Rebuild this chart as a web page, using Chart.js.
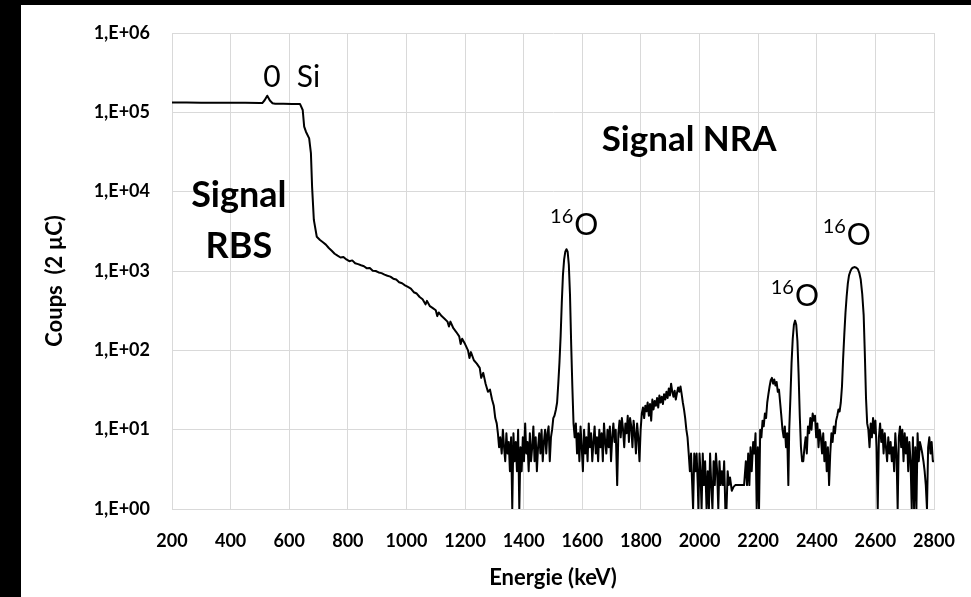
<!DOCTYPE html>
<html>
<head>
<meta charset="utf-8">
<script src="https://cdn.jsdelivr.net/npm/chart.js@4.4.1/dist/chart.umd.min.js"></script>
<style>
  html, body { margin: 0; padding: 0; background: #000; }
  body { width: 971px; height: 597px; position: relative; overflow: hidden; }
  #wrap { position: absolute; left: 21px; top: 5px; width: 950px; height: 592px; background: #fff; }
</style>
</head>
<body>
<div id="wrap"><canvas id="spectrum"></canvas></div>
<script>
// Spectrum, region by region (energy in keV, counts per channel).
// A count of 1 sits on the bottom axis (the empty channels of the original).
const plateauE = [200, 250, 300, 350, 400, 450, 500, 508, 516, 525,
                  534, 543, 552, 580, 610, 637, 646, 651, 657, 668,
                  674, 678, 684, 694, 705];
const plateauC = [133000, 132800, 132500, 132200, 132000, 131600, 131000, 131000, 142000, 162000,
                  141000, 130000, 128500, 128000, 127500, 127000, 107000, 66000, 57000, 47000,
                  30600, 11500, 4400, 2700, 2460];

const slopeE = [715, 725, 735, 745, 755, 765, 775, 785, 795, 805,
                815, 825, 835, 845, 855, 865, 875, 885, 895, 905,
                915, 925, 935, 945, 955, 965, 975, 985, 995, 1005,
                1015, 1025, 1035, 1045, 1055, 1065, 1070, 1080, 1090, 1100,
                1105, 1110, 1120, 1130, 1140, 1145, 1150, 1160, 1170, 1180,
                1185, 1190, 1200, 1210, 1215, 1220, 1230, 1240, 1250, 1255,
                1262, 1270, 1278, 1285, 1292, 1298, 1303, 1308, 1312, 1316];
const slopeC = [2300, 2150, 1950, 1800, 1650, 1560, 1480, 1500, 1400, 1330,
                1360, 1250, 1220, 1180, 1150, 1080, 1090, 1010, 1000, 960,
                940, 900, 870, 850, 800, 780, 720, 700, 660, 630,
                600, 540, 520, 470, 440, 380, 420, 360, 340, 320,
                270, 300, 270, 250, 230, 200, 230, 190, 170, 150,
                120, 140, 120, 100, 80, 95, 75, 68, 60, 45,
                52, 38, 30, 32, 24, 20, 14, 12, 9, 6];

const noiseAE = [1320, 1325, 1329, 1333, 1337, 1341, 1345, 1349, 1353, 1357,
                 1361, 1365, 1369, 1373, 1377, 1381, 1385, 1389, 1393, 1397,
                 1401, 1405, 1409, 1413, 1417, 1421, 1425, 1429, 1433, 1437,
                 1441, 1445, 1449, 1453, 1457, 1461, 1465, 1469, 1473, 1477,
                 1481, 1485, 1489, 1493, 1497, 1501, 1505, 1510, 1514, 1518];
const noiseAC = [8, 5, 10, 6, 4, 9, 5, 7, 3, 8,
                 1, 9, 4, 7, 3, 10, 1, 6, 3, 8,
                 4, 12, 5, 7, 3, 9, 4, 6, 11, 4,
                 8, 3, 6, 9, 5, 10, 4, 7, 10, 5,
                 9, 11, 4, 8, 10, 14, 15, 18, 22, 38];

const peak1E = [1522, 1526, 1530, 1534, 1538, 1542, 1546, 1550, 1554, 1558,
                1562, 1566, 1570, 1574];
const peak1C = [70, 150, 400, 900, 1400, 1750, 1880, 1750, 1200, 500,
                120, 35, 12, 8];

const noiseBE = [1578, 1582, 1586, 1590, 1594, 1598, 1602, 1606, 1610, 1614,
                 1618, 1622, 1626, 1630, 1634, 1638, 1642, 1646, 1650, 1654,
                 1658, 1662, 1666, 1670, 1674, 1678, 1682, 1686, 1690, 1694,
                 1698, 1702, 1706, 1710, 1714, 1719, 1723, 1727, 1731, 1735,
                 1739, 1743, 1747, 1751, 1755, 1759, 1763, 1767, 1771, 1775,
                 1779, 1783, 1787, 1791, 1795, 1799, 1803, 1807, 1811, 1815,
                 1819, 1823, 1827, 1831, 1835, 1839, 1843, 1847, 1851, 1855,
                 1859, 1863, 1867, 1871, 1875, 1879, 1883, 1887, 1891, 1895,
                 1899, 1903, 1907, 1911, 1915, 1919, 1923, 1927, 1931, 1935,
                 1939, 1943, 1947, 1951, 1955, 1959, 1963];
const noiseBC = [12, 5, 9, 4, 11, 6, 3, 10, 5, 8,
                 4, 12, 6, 9, 4, 7, 11, 5, 8, 4,
                 10, 6, 9, 4, 12, 7, 5, 10, 6, 11,
                 4, 8, 12, 7, 10, 2, 9, 13, 8, 14,
                 10, 6, 12, 9, 15, 7, 14, 11, 6, 13,
                 9, 5, 12, 8, 4, 10, 16, 19, 14, 20,
                 17, 22, 15, 21, 13, 24, 18, 23, 20, 25,
                 19, 27, 22, 26, 21, 28, 24, 30, 25, 33,
                 27, 38, 30, 26, 31, 24, 29, 34, 30, 35,
                 28, 22, 18, 14, 10, 8, 5];

const noiseCE = [1967, 1971, 1975, 1978, 1982, 1986, 1990, 1994, 1996, 2000,
                 2003, 2007, 2011, 2015, 2019, 2024, 2028, 2032, 2036, 2040,
                 2044, 2048, 2052, 2056, 2060, 2064, 2068, 2072, 2076, 2080,
                 2084, 2088, 2092, 2096, 2100, 2104, 2110, 2116, 2122, 2128,
                 2134, 2140, 2146, 2152, 2158, 2162, 2166, 2170, 2174, 2178,
                 2183, 2187, 2191, 2195, 2199, 2203, 2207, 2211, 2215, 2219,
                 2223, 2227, 2231, 2235, 2239, 2243, 2247, 2251, 2255, 2259,
                 2263, 2267, 2271, 2275, 2279, 2283, 2287, 2291, 2295, 2299,
                 2303];
const noiseCC = [3, 5, 2, 1, 5, 3, 5, 2, 1, 5,
                 3, 1, 5, 2, 4, 1, 3, 1, 5, 2,
                 1, 4, 2, 5, 3, 1, 4, 2, 3, 2,
                 4, 1, 1, 3, 2, 2.5, 1.7, 1.9, 2, 2,
                 2, 2, 2, 2, 4, 2, 5, 2, 6, 3,
                 7, 5, 9, 1, 6, 1, 10, 8, 13, 11,
                 16, 14, 22, 28, 35, 42, 45, 38, 43, 36,
                 40, 30, 32, 22, 15, 10, 8, 11, 6, 9,
                 2];

const peak2E = [2306, 2310, 2314, 2318, 2322, 2326, 2330, 2334, 2338, 2342,
                2346, 2350];
const peak2C = [10, 25, 70, 140, 210, 237, 210, 130, 50, 15,
                6, 4];

const noiseDE = [2354, 2358, 2362, 2366, 2370, 2374, 2378, 2382, 2386, 2390,
                 2394, 2398, 2402, 2406, 2410, 2414, 2418, 2422, 2426, 2430,
                 2434, 2438, 2442, 2446, 2450, 2454, 2458, 2462, 2466, 2470,
                 2474, 2478];
const noiseDC = [4, 6, 8, 5, 11, 9, 14, 10, 16, 13,
                 15, 8, 12, 6, 10, 8, 5, 9, 4, 7,
                 3, 6, 2, 5, 9, 7, 11, 9, 13, 15,
                 18, 17];

const peak3E = [2482, 2486, 2490, 2494, 2498, 2502, 2506, 2510, 2515, 2520,
                2525, 2530, 2535, 2540, 2545, 2550, 2555, 2560, 2564, 2568,
                2572];
const peak3C = [22, 35, 80, 160, 300, 480, 700, 880, 1000, 1080,
                1110, 1120, 1100, 1060, 950, 780, 520, 280, 90, 25,
                12];

const tailE = [2576, 2580, 2584, 2588, 2592, 2596, 2600, 2604, 2608, 2612,
               2616, 2620, 2624, 2628, 2632, 2636, 2640, 2644, 2648, 2652,
               2656, 2660, 2664, 2668, 2672, 2676, 2680, 2684, 2688, 2692,
               2696, 2700, 2704, 2708, 2712, 2716, 2720, 2724, 2728, 2732,
               2736, 2740, 2744, 2748, 2752, 2756, 2760, 2764, 2768, 2772,
               2776, 2780, 2784, 2788, 2792, 2796, 2800];
const tailC = [10, 6, 12, 8, 14, 9, 13, 6, 1, 8,
               12, 7, 10, 5, 9, 6, 4, 8, 5, 7,
               4, 6, 3, 9, 5, 1, 8, 11, 6, 10,
               4, 9, 5, 8, 3, 7, 4, 1, 8, 1,
               6, 1, 9, 4, 7, 6, 5, 4, 3, 2,
               1, 6, 8, 5, 7, 4, 4];

const yTickValues = [1, 10, 100, 1000, 10000, 100000, 1000000];
const yTickLabels = ["1,E+00", "1,E+01", "1,E+02", "1,E+03", "1,E+04", "1,E+05", "1,E+06"];
const yTitle = "Coups  (2 µC)";

// Text written on the plot, anchored in data coordinates (keV, counts).
const notes = [
  { text: "0", x: 541, y: 209000, align: "center", font: "30px Lato" },
  { text: "Si", x: 626, y: 209000, align: "left", font: "30px Lato" },
  { text: "Signal", x: 428, y: 6470, align: "center", font: "bold 36px Lato" },
  { text: "RBS", x: 428, y: 1459, align: "center", font: "bold 36px Lato" },
  { text: "Signal NRA", x: 1666, y: 33000, align: "left", font: "bold 35px Lato" },
];
const isotopes = [
  { sup: "16", el: "O", x: 1490, y: 2845 },
  { sup: "16", el: "O", x: 2243, y: 362 },
  { sup: "16", el: "O", x: 2420, y: 2128 },
];

const energy = [].concat(plateauE, slopeE, noiseAE, peak1E, noiseBE, noiseCE, peak2E, noiseDE, peak3E, tailE);
const counts = [].concat(plateauC, slopeC, noiseAC, peak1C, noiseBC, noiseCC, peak2C, noiseDC, peak3C, tailC);

const notesPlugin = {
  id: "notes",
  afterDatasetsDraw(chart) {
    const { ctx, chartArea, scales: { x, y } } = chart;
    ctx.save();
    ctx.fillStyle = "#000";
    ctx.textBaseline = "alphabetic";
    for (const n of notes) {
      ctx.font = n.font;
      ctx.textAlign = n.align;
      ctx.fillText(n.text, x.getPixelForValue(n.x), y.getPixelForValue(n.y));
    }
    ctx.textAlign = "left";
    for (const n of isotopes) {
      const px = x.getPixelForValue(n.x);
      const py = y.getPixelForValue(n.y);
      ctx.font = "20px Lato";
      ctx.fillText(n.sup, px, py - 12);
      const w = ctx.measureText(n.sup).width;
      ctx.font = "30px Lato";
      ctx.fillText(n.el, px + w + 1, py);
    }
    // y axis title sits a little below the middle of the plot in the original
    ctx.translate(34, (chartArea.top + chartArea.bottom) / 2 + 10);
    ctx.rotate(-Math.PI / 2);
    ctx.font = "bold 22px Lato";
    ctx.textAlign = "center";
    ctx.textBaseline = "middle";
    ctx.fillText(yTitle, 0, 0);
    ctx.restore();
  },
};

const tickFont = { family: "Lato", size: 18, weight: "bold" };
const titleFont = { family: "Lato", size: 22, weight: "bold" };

new Chart(document.getElementById("spectrum"), {
  type: "line",
  data: {
    datasets: [{
      data: energy.map((e, i) => ({ x: e, y: counts[i] })),
      borderColor: "#000",
      borderWidth: 2,
      borderJoinStyle: "round",
      pointRadius: 0,
      tension: 0,
      fill: false,
    }],
  },
  options: {
    responsive: true,
    maintainAspectRatio: false,
    animation: false,
    layout: { padding: { left: 0, top: 28, right: 37, bottom: 0 } },
    plugins: { legend: { display: false }, tooltip: { enabled: false } },
    scales: {
      x: {
        type: "linear",
        min: 200,
        max: 2800,
        afterFit: (s) => { s.height = 88; s.paddingLeft = 0; s.paddingRight = 0; },
        ticks: { stepSize: 200, color: "#000", font: tickFont, padding: 21, maxRotation: 0, callback: (v) => String(v) },
        grid: { color: "#d9d9d9", drawTicks: false },
        border: { color: "#d9d9d9" },
        title: { display: true, text: "Energie (keV)", color: "#000", font: titleFont, padding: { top: 0, bottom: 6 } },
      },
      y: {
        type: "logarithmic",
        min: 1,
        max: 1000000,
        afterFit: (s) => { s.width = 151; s.paddingTop = 0; s.paddingBottom = 0; },
        afterBuildTicks: (s) => { s.ticks = yTickValues.map((v) => ({ value: v })); },
        ticks: { color: "#000", font: tickFont, padding: 22, callback: (v, i) => yTickLabels[i] },
        grid: { color: "#d9d9d9", drawTicks: false },
        border: { color: "#d9d9d9" },
        title: { display: false },
      },
    },
  },
  plugins: [notesPlugin],
});
</script>
</body>
</html>
